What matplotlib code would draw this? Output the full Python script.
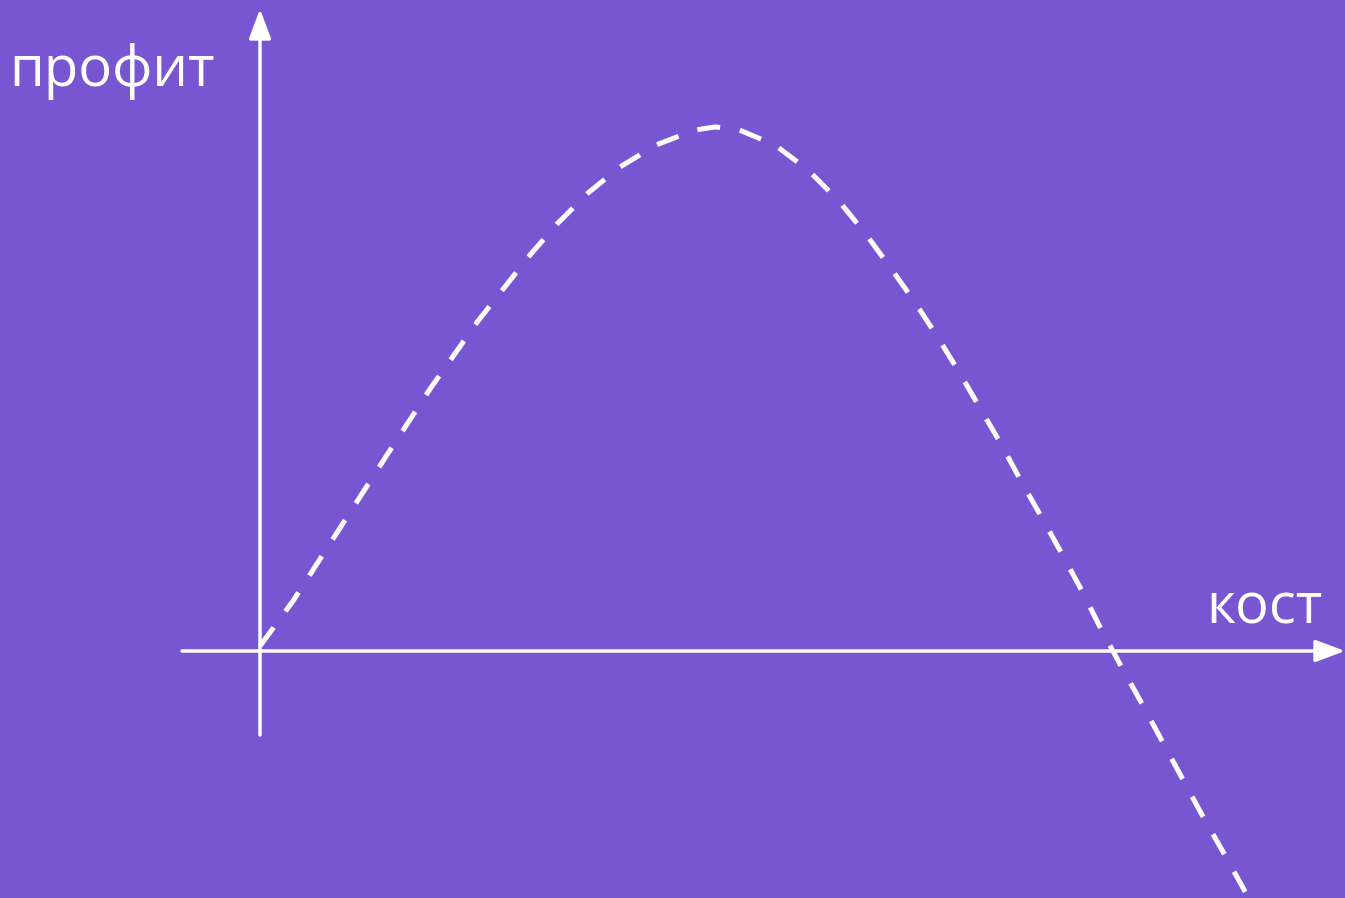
import matplotlib.pyplot as plt

# profit vs cost curve
cost = [0.0, 0.33, 0.80, 1.25, 1.70, 2.18, 2.70, 2.98, 3.28, 3.60, 3.96, 4.35, 4.55, 4.77,
        5.15, 5.48, 5.78, 6.05, 6.30, 6.54, 6.77, 6.99, 7.20, 7.41, 7.61, 7.82, 8.02, 8.22,
        8.41, 8.61, 8.81, 9.01, 9.21, 9.41, 9.62, 9.82, 9.90]
profit = [0.05, 0.50, 1.23, 1.93, 2.62, 3.30, 3.96, 4.28, 4.58, 4.84, 5.06, 5.21, 5.24, 5.22,
          5.06, 4.81, 4.51, 4.18, 3.84, 3.50, 3.15, 2.79, 2.43, 2.07, 1.70, 1.33, 0.97, 0.60,
          0.22, -0.15, -0.51, -0.88, -1.25, -1.62, -1.99, -2.35, -2.50]

bg = '#7856D2'
x_label = 'кост'
y_label = 'профит'

plt.rcParams['font.family'] = ['Open Sans', 'DejaVu Sans']

fig = plt.figure(figsize=(13.45, 8.98), dpi=100, facecolor=bg)
ax = fig.add_axes([0, 0, 1, 1])
ax.set_facecolor(bg)
ax.set_xlim(-2.60, 10.85)
ax.set_ylim(-2.47, 6.51)
ax.axis('off')

# axes with arrow heads
arrow = dict(arrowstyle='-|>,head_length=0.4,head_width=0.15', color='white', lw=2.5,
             mutation_scale=45, shrinkA=0, shrinkB=0)
ax.annotate('', xy=(10.85, 0), xytext=(-0.78, 0), arrowprops=arrow)
ax.annotate('', xy=(0, 6.42), xytext=(0, -0.84), arrowprops=arrow)

ax.plot(cost, profit, color='white', lw=3.6, dashes=(4.6, 4.0), solid_capstyle='butt')

ax.text(-2.51, 5.65, y_label, color='white', fontsize=40.5, va='baseline')
ax.text(9.46, 0.28, x_label, color='white', fontsize=40.5, va='baseline')

fig.savefig('out.png', dpi=100, facecolor=bg)
